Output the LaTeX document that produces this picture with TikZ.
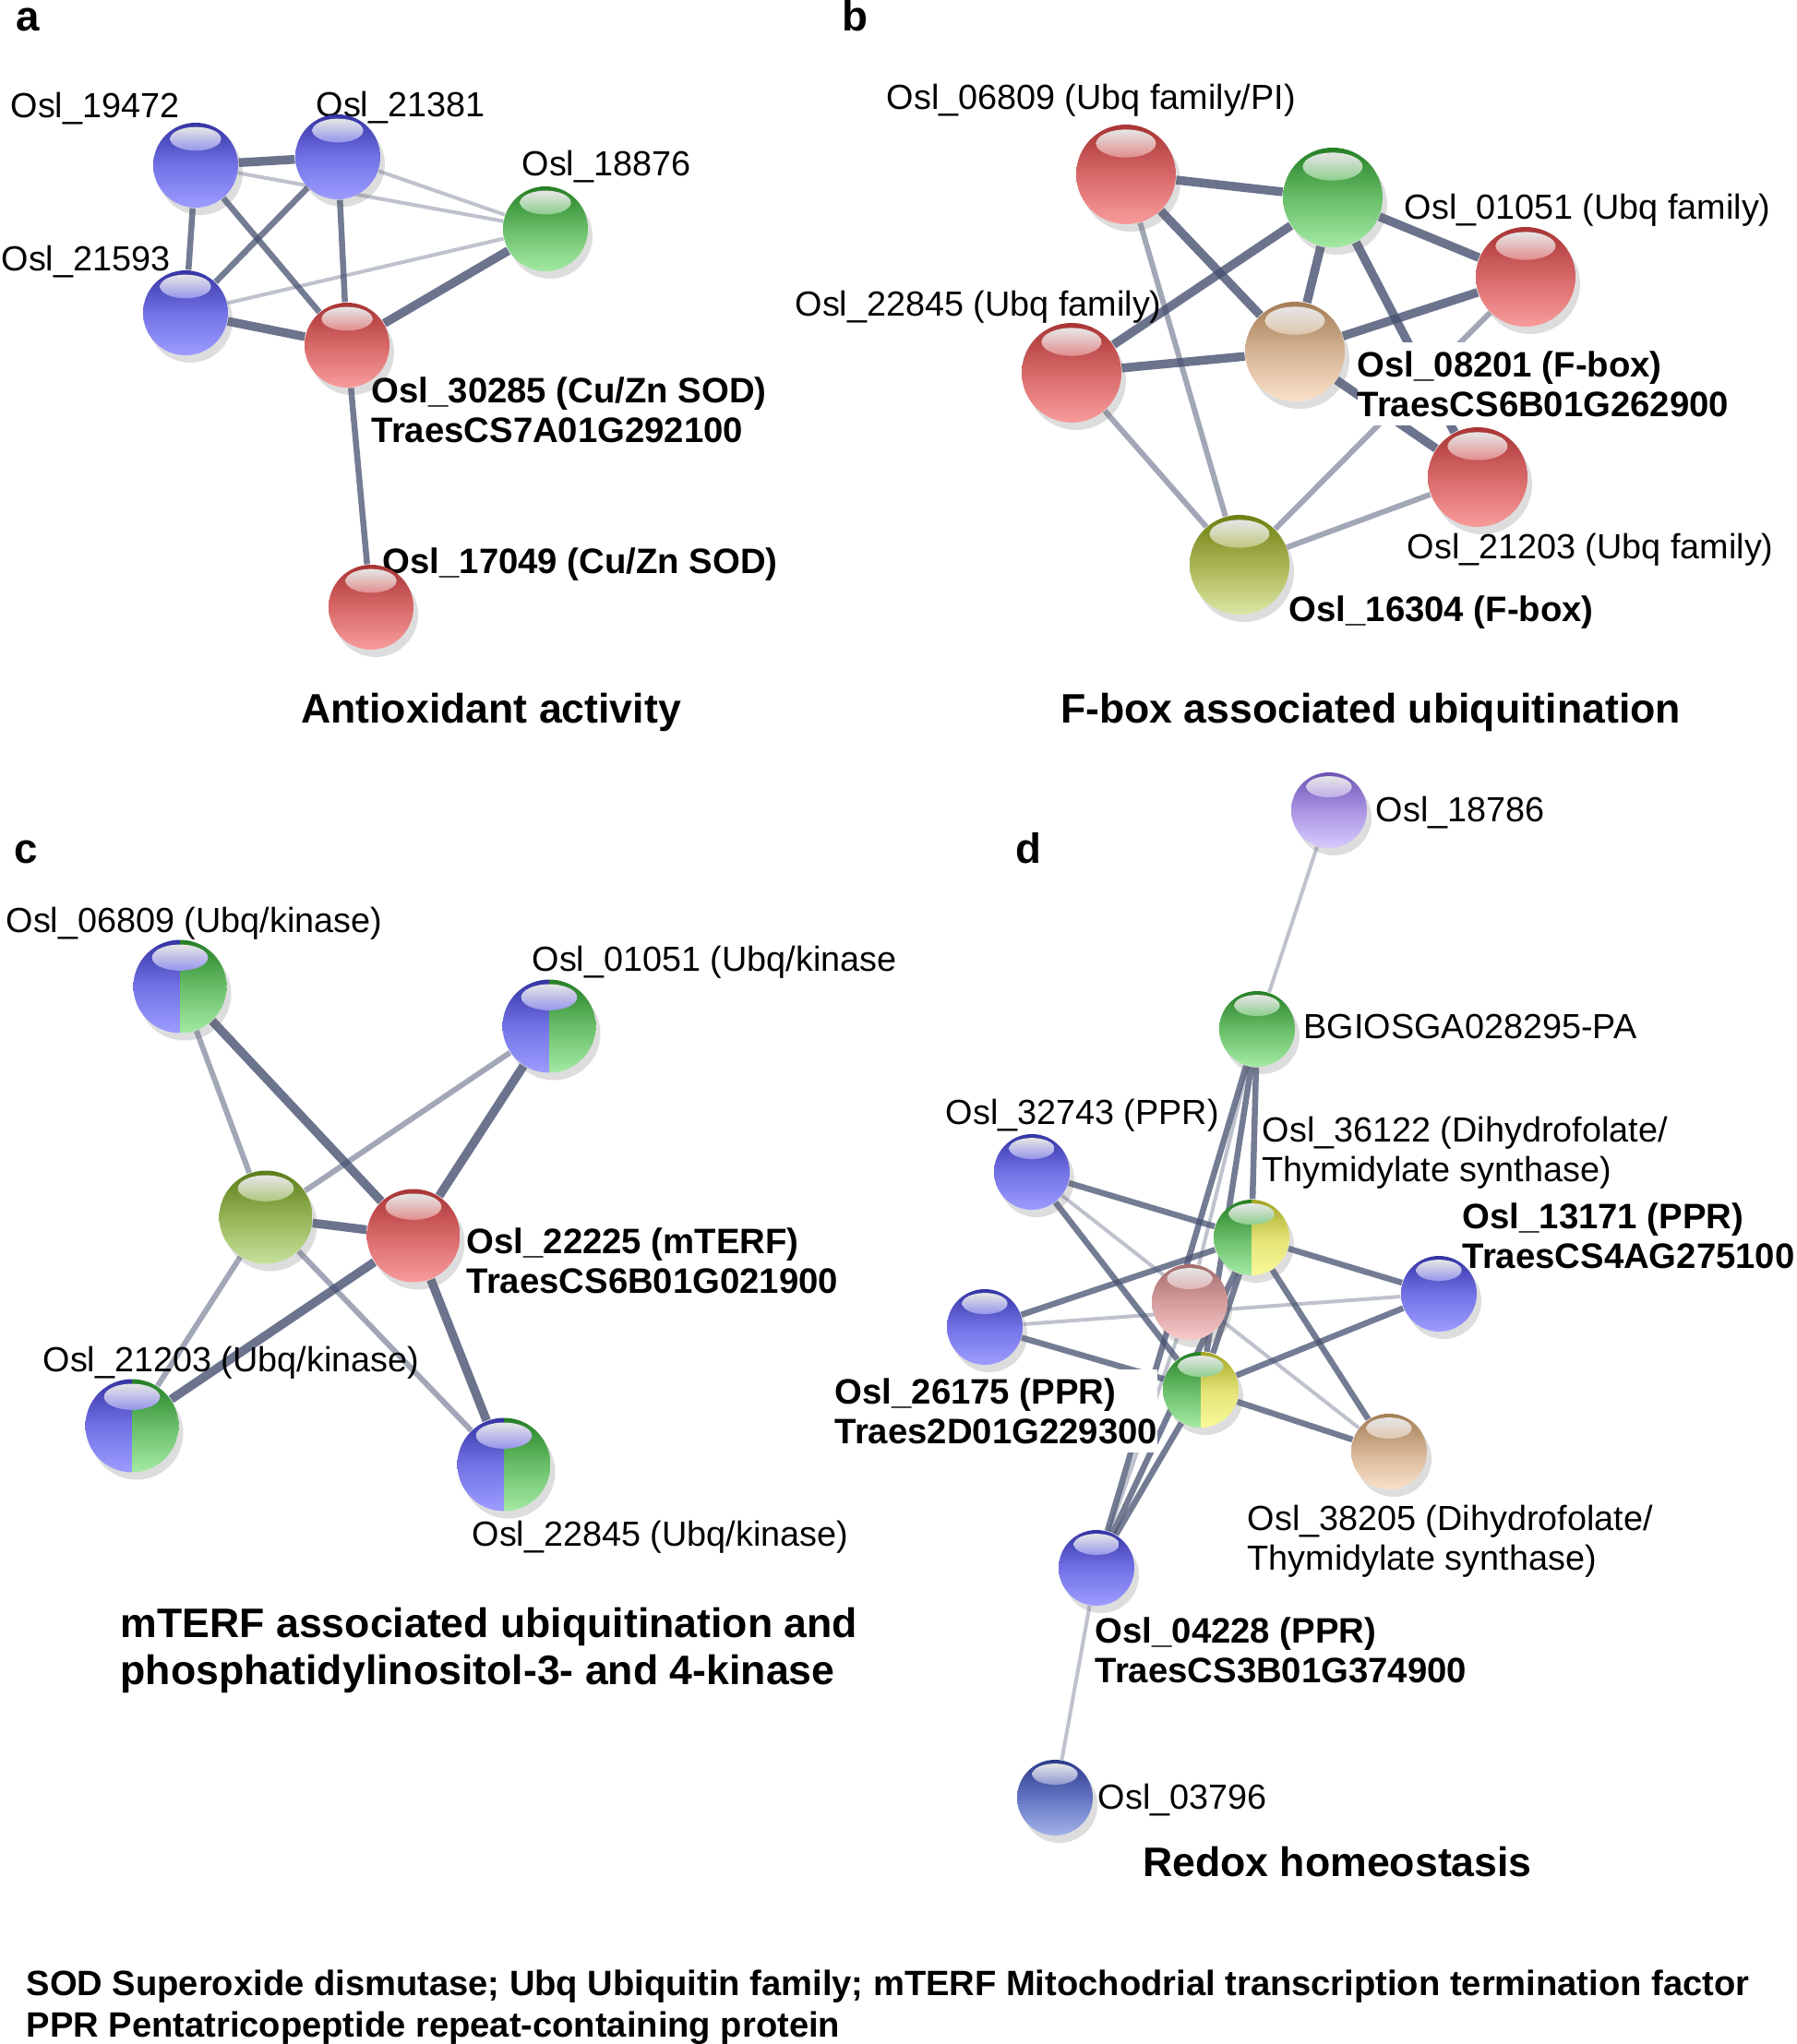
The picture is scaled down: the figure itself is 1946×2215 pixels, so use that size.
\documentclass[tikz,border=0pt]{standalone}
\usepackage{fontspec}
\setmainfont{Liberation Sans}
\usetikzlibrary{shadows,backgrounds,calc}

% ball colours: top, middle, bottom of each sphere
\definecolor{bluetop}{HTML}{3434A4}
\definecolor{bluemid}{HTML}{7272E6}
\definecolor{bluebot}{HTML}{9C9CFF}
\definecolor{redtop}{HTML}{A83434}
\definecolor{redmid}{HTML}{D86868}
\definecolor{redbot}{HTML}{F89C9C}
\definecolor{greentop}{HTML}{257F25}
\definecolor{greenmid}{HTML}{68BE68}
\definecolor{greenbot}{HTML}{A4EAA4}
\definecolor{tantop}{HTML}{A47C54}
\definecolor{tanmid}{HTML}{D4B494}
\definecolor{tanbot}{HTML}{FCE2CA}
\definecolor{olivetop}{HTML}{6E7E12}
\definecolor{olivemid}{HTML}{AAB454}
\definecolor{olivebot}{HTML}{DCE6A4}
\definecolor{mosstop}{HTML}{5C7C1A}
\definecolor{mossmid}{HTML}{94B456}
\definecolor{mossbot}{HTML}{C6E29C}
\definecolor{lilactop}{HTML}{6C54B4}
\definecolor{lilacmid}{HTML}{AA94E2}
\definecolor{lilacbot}{HTML}{D6CAFC}
\definecolor{rosetop}{HTML}{A46C6C}
\definecolor{rosemid}{HTML}{D49C9C}
\definecolor{rosebot}{HTML}{F8CACA}
\definecolor{lemontop}{HTML}{A4A424}
\definecolor{lemonmid}{HTML}{E2E274}
\definecolor{lemonbot}{HTML}{FAFA9C}
\definecolor{navytop}{HTML}{2C3C8C}
\definecolor{navymid}{HTML}{6474C2}
\definecolor{navybot}{HTML}{A2B2EA}
\definecolor{linkcol}{HTML}{465070}

\newcommand{\ballpaint}[2]{%
  \shade[top color=#1top, bottom color=#1bot, middle color=#1mid]
    (path picture bounding box.south west) rectangle (path picture bounding box.north);
  \shade[top color=#2top, bottom color=#2bot, middle color=#2mid]
    (path picture bounding box.south) rectangle (path picture bounding box.north east);
  \shade[top color=white!90!black, bottom color=#1mid!75!white]
    let \p1=(path picture bounding box.north), \p2=(path picture bounding box.south),
        \n1={\y1-\y2} in
    ($(\p1)+(0pt,-0.19*\n1)$) ellipse [x radius=0.3*\n1, y radius=0.14*\n1];
}

\tikzset{
  every ball/.style={minimum size=9mm},
  ball/.style={circle, inner sep=0pt, every ball,
    drop shadow={shadow xshift=0.5mm, shadow yshift=-0.8mm, opacity=0.22, fill=black!60},
    path picture={\ballpaint{#1}{#1}}},
  halfball/.style 2 args={circle, inner sep=0pt, every ball,
    drop shadow={shadow xshift=0.5mm, shadow yshift=-0.8mm, opacity=0.22, fill=black!60},
    path picture={\ballpaint{#1}{#2}}},
}
\tikzstyle{lbl} = [inner sep=0pt, anchor=base west, align=left, font=\fontsize{10.75}{12}\selectfont]
\tikzstyle{boldlbl} = [lbl, inner ysep=1mm, fill=white, font=\fontsize{10.9}{12.1}\selectfont\bfseries]
\tikzstyle{heading} = [inner sep=0pt, anchor=base, font=\fontsize{12.7}{14.5}\selectfont\bfseries]
\tikzstyle{panelletter} = [inner sep=0pt, anchor=base west, font=\fontsize{13}{15}\selectfont\bfseries]
\tikzstyle{keytext} = [inner sep=0pt, anchor=base west, align=left, font=\fontsize{10.85}{12.8}\selectfont\bfseries]
\tikzstyle{heavy link} = [line width=0.95mm, draw=linkcol, draw opacity=0.8]
\tikzstyle{mid link} = [line width=0.65mm, draw=linkcol, draw opacity=0.75]
\tikzstyle{light link} = [line width=0.6mm, draw=linkcol, draw opacity=0.5]
\tikzstyle{faint link} = [line width=0.4mm, draw=linkcol, draw opacity=0.35]

\begin{document}
\begin{tikzpicture}[x=0.1mm, y=-0.1mm]
  \useasboundingbox (0,0) rectangle (1946,2215);

  % ---- a: antioxidant activity
  % (two-line labels sit on the baseline of their last line)
  \node[panelletter] (pa) at (17,34) {a};
  \node[lbl] (ta19472) at (11,128) {Osl\_19472};
  \node[lbl] (ta21381) at (342,127) {Osl\_21381};
  \node[lbl] (ta18876) at (565,191) {Osl\_18876};
  \node[lbl] (ta21593) at (1,293) {Osl\_21593};
  \node[boldlbl] (ta30285) at (402,479) {Osl\_30285 (Cu/Zn SOD)\\TraesCS7A01G292100};
  \node[boldlbl] (ta17049) at (414,621) {Osl\_17049 (Cu/Zn SOD)};
  \node[heading] (ha) at (532,783) {Antioxidant activity};
  \begin{scope}[every ball/.style={minimum size=9.2mm}]
    \node[ball=blue] (a19472) at (212,179) {};
    \node[ball=blue] (a21381) at (366,170) {};
    \node[ball=green] (a18876) at (591,248) {};
    \node[ball=blue] (a21593) at (201,339) {};
    \node[ball=red] (a30285) at (376,374) {};
    \node[ball=red] (a17049) at (402,658) {};
  \end{scope}

  % ---- b: F-box associated ubiquitination
  \node[panelletter] (pb) at (912,34) {b};
  \node[lbl] (tb06809) at (960,119) {Osl\_06809 (Ubq family/PI)};
  \node[lbl] (tb01051) at (1521,237) {Osl\_01051 (Ubq family)};
  \node[lbl] (tb22845) at (861,342) {Osl\_22845 (Ubq family)};
  \node[boldlbl] (tb08201) at (1470,451) {Osl\_08201 (F-box)\\TraesCS6B01G262900};
  \node[lbl] (tb21203) at (1524,605) {Osl\_21203 (Ubq family)};
  \node[boldlbl] (tb16304) at (1396,673) {Osl\_16304 (F-box)};
  \node[heading] (hb) at (1485,783) {F-box associated ubiquitination};
  \begin{scope}[every ball/.style={minimum size=10.8mm}]
    \node[ball=red] (b06809) at (1220,189) {};
    \node[ball=green] (bgreen) at (1444,214) {};
    \node[ball=red] (b01051) at (1653,300) {};
    \node[ball=red] (b22845) at (1161,404) {};
    \node[ball=tan] (b08201) at (1403,381) {};
    \node[ball=red] (b21203) at (1601,517) {};
    \node[ball=olive] (b16304) at (1343,612) {};
  \end{scope}

  % ---- c: mTERF
  \node[panelletter] (pc) at (15,935) {c};
  \node[lbl] (tc06809) at (6,1010) {Osl\_06809 (Ubq/kinase)};
  \node[lbl] (tc01051) at (576,1052) {Osl\_01051 (Ubq/kinase};
  \node[boldlbl] (tc22225) at (505,1401) {Osl\_22225 (mTERF)\\TraesCS6B01G021900};
  \node[lbl] (tc21203) at (46,1486) {Osl\_21203 (Ubq/kinase)};
  \node[lbl] (tc22845) at (511,1675) {Osl\_22845 (Ubq/kinase)};
  \node[heading, anchor=base west, align=left] (hc) at (130,1825)
    {mTERF associated ubiquitination and\\phosphatidylinositol-3- and 4-kinase};
  \begin{scope}[every ball/.style={minimum size=10.1mm}]
    \node[halfball={blue}{green}] (c06809) at (195,1069) {};
    \node[halfball={blue}{green}] (c01051) at (595,1112) {};
    \node[ball=moss] (colive) at (288,1319) {};
    \node[ball=red] (c22225) at (448,1339) {};
    \node[halfball={blue}{green}] (c21203) at (143,1545) {};
    \node[halfball={blue}{green}] (c22845) at (546,1587) {};
  \end{scope}

  % ---- d: redox homeostasis
  \node[panelletter] (pd) at (1100,935) {d};
  \node[lbl] (td18786) at (1490,890) {Osl\_18786};
  \node[lbl] (tdbgio) at (1412,1125) {BGIOSGA028295-PA};
  \node[lbl] (td32743) at (1024,1218) {Osl\_32743 (PPR)};
  \node[lbl] (td36122) at (1367,1280) {Osl\_36122 (Dihydrofolate/\\Thymidylate synthase)};
  \node[boldlbl] (td13171) at (1584,1374) {Osl\_13171 (PPR)\\TraesCS4AG275100};
  \node[boldlbl] (td26175) at (904,1564) {Osl\_26175 (PPR)\\Traes2D01G229300};
  \node[lbl] (td38205) at (1351,1701) {Osl\_38205 (Dihydrofolate/\\Thymidylate synthase)};
  \node[boldlbl] (td04228) at (1186,1823) {Osl\_04228 (PPR)\\TraesCS3B01G374900};
  \node[lbl] (td03796) at (1189,1960) {Osl\_03796};
  \node[heading] (hd) at (1449,2033) {Redox homeostasis};
  \begin{scope}[every ball/.style={minimum size=8.2mm}]
    \node[ball=lilac] (d18786) at (1440,878) {};
    \node[ball=green] (dbgio) at (1362,1115) {};
    \node[ball=blue] (d32743) at (1118,1270) {};
    \node[halfball={green}{lemon}] (d36122) at (1356,1341) {};
    \node[ball=rose] (dpink) at (1289,1411) {};
    \node[ball=blue] (d26175) at (1067,1438) {};
    \node[ball=blue] (d13171) at (1559,1402) {};
    \node[halfball={green}{lemon}] (dgy) at (1301,1506) {};
    \node[ball=tan] (d38205) at (1505,1573) {};
    \node[ball=blue] (d04228) at (1188,1699) {};
    \node[ball=navy] (d03796) at (1143,1948) {};
  \end{scope}

  % ---- abbreviations
  \node[keytext] (key) at (28,2207) {SOD Superoxide dismutase; Ubq Ubiquitin family; mTERF Mitochodrial transcription termination factor\\PPR Pentatricopeptide repeat-containing protein};

  % ---- links
  \begin{scope}[on background layer]
    \draw[faint link] (a19472) -- (a18876);
    \draw[faint link] (a21381) -- (a18876);
    \draw[faint link] (a21593) -- (a18876);
    \draw[mid link] (a19472) -- (a21593);
    \draw[mid link] (a19472) -- (a30285);
    \draw[mid link] (a21381) -- (a21593);
    \draw[mid link] (a21381) -- (a30285);
    \draw[mid link] (a30285) -- (a17049);
    \draw[heavy link] (a19472) -- (a21381);
    \draw[heavy link] (a21593) -- (a30285);
    \draw[heavy link] (a30285) -- (a18876);

    \draw[light link] (b06809) -- (b16304);
    \draw[light link] (b01051) -- (b16304);
    \draw[light link] (b22845) -- (b16304);
    \draw[light link] (b21203) -- (b16304);
    \draw[heavy link] (b06809) -- (bgreen);
    \draw[heavy link] (b06809) -- (b08201);
    \draw[heavy link] (bgreen) -- (b22845);
    \draw[heavy link] (bgreen) -- (b08201);
    \draw[heavy link] (bgreen) -- (b01051);
    \draw[heavy link] (bgreen) -- (b21203);
    \draw[heavy link] (b08201) -- (b21203);
    \draw[heavy link] (b08201) -- (b01051);
    \draw[heavy link] (b08201) -- (b22845);

    \draw[light link] (c06809) -- (colive);
    \draw[light link] (c01051) -- (colive);
    \draw[light link] (colive) -- (c21203);
    \draw[light link] (colive) -- (c22845);
    \draw[heavy link] (c06809) -- (c22225);
    \draw[heavy link] (c01051) -- (c22225);
    \draw[heavy link] (colive) -- (c22225);
    \draw[heavy link] (c22225) -- (c21203);
    \draw[heavy link] (c22225) -- (c22845);

    \draw[faint link] (d18786) -- (dbgio);
    \draw[faint link] (dbgio) -- (dpink);
    \draw[faint link] (dpink) -- (d04228);
    \draw[faint link] (d04228) -- (d03796);
    \draw[faint link] (d32743) -- (d38205);
    \draw[faint link] (d26175) -- (d13171);
    \draw[mid link] (dbgio) -- (d36122);
    \draw[mid link] (dbgio) -- (dgy);
    \draw[mid link] (dbgio) -- (d04228);
    \draw[mid link] (d36122) -- (dgy);
    \draw[mid link] (d36122) -- (d04228);
    \draw[mid link] (dgy) -- (d04228);
    \draw[mid link] (d32743) -- (d36122);
    \draw[mid link] (d32743) -- (dgy);
    \draw[mid link] (d26175) -- (d36122);
    \draw[mid link] (d26175) -- (dgy);
    \draw[mid link] (d36122) -- (d13171);
    \draw[mid link] (dgy) -- (d13171);
    \draw[mid link] (d36122) -- (d38205);
    \draw[mid link] (dgy) -- (d38205);
  \end{scope}
\end{tikzpicture}
\end{document}
